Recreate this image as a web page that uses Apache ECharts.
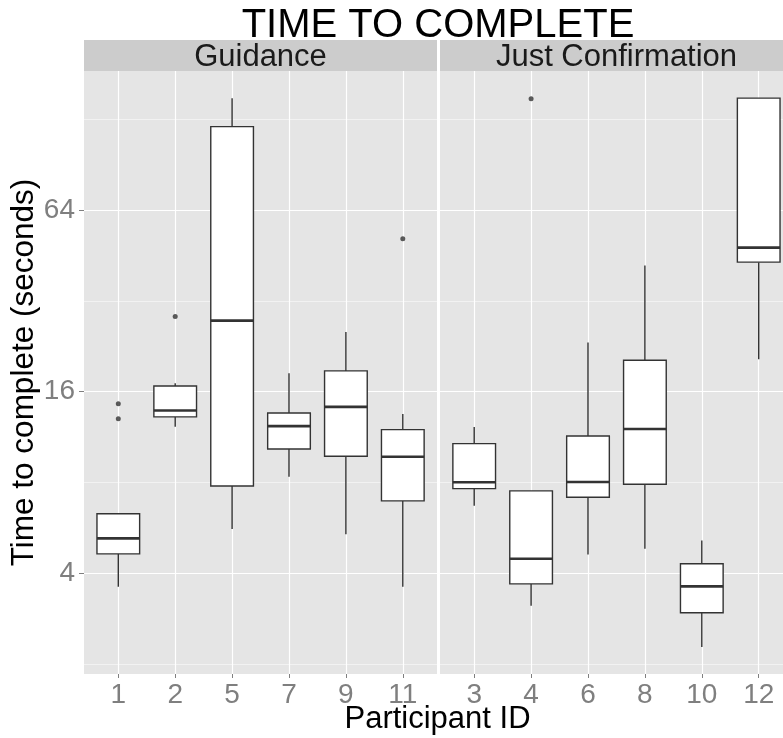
<!DOCTYPE html>
<html>
<head>
<meta charset="utf-8">
<title>Time to complete</title>
<script src="https://cdn.jsdelivr.net/npm/echarts@6/dist/echarts.min.js"></script>
<style>
  html, body { margin: 0; padding: 0; background: #fff; }
  #chart { width: 783px; height: 738px; }
</style>
</head>
<body>
<div id="chart"></div>
<script>
// --- data (seconds) ---
const guidanceIds = ['1', '2', '5', '7', '9', '11'];
const guidanceLow = [3.61, 12.25, 5.61, 8.36, 5.39, 3.61];
const guidanceQ1 = [4.64, 13.2, 7.79, 10.33, 9.77, 6.95];
const guidanceMedian = [5.22, 13.85, 27.5, 12.3, 14.24, 9.74];
const guidanceQ3 = [6.3, 16.7, 120.9, 13.6, 18.74, 11.97];
const guidanceHigh = [6.3, 17.06, 150.2, 18.4, 25.2, 13.5];
const guidanceOutliers = [['1', 14.6], ['1', 13.0], ['2', 28.4], ['11', 51.4]];

const confirmIds = ['3', '4', '6', '8', '10', '12'];
const confirmLow = [6.7, 3.12, 4.62, 4.82, 2.28, 20.5];
const confirmQ1 = [7.63, 3.69, 7.15, 7.89, 2.96, 42.97];
const confirmMedian = [8.01, 4.47, 8.03, 12.03, 3.62, 48.0];
const confirmQ3 = [10.76, 7.5, 11.41, 20.33, 4.3, 150.2];
const confirmHigh = [12.22, 7.5, 23.26, 41.9, 5.14, 150.2];
const confirmOutliers = [['4', 149.5]];

const yTicks = [4, 16, 64];
const yMin = 1.855;
const yMax = 184.8;

const FONT = 'Liberation Sans, Arial, Helvetica, sans-serif';

function boxRows(ids, low, q1, med, q3, high) {
  return ids.map((id, i) => [i, low[i], q1[i], med[i], q3[i], high[i]]);
}

function outlierRows(ids, list) {
  return list.map(d => [ids.indexOf(d[0]), d[1]]);
}

function renderBox(params, api) {
  const i = api.value(0);
  const lo = api.coord([i, api.value(1)]);
  const q1 = api.coord([i, api.value(2)]);
  const md = api.coord([i, api.value(3)]);
  const q3 = api.coord([i, api.value(4)]);
  const hi = api.coord([i, api.value(5)]);
  const band = Math.abs(api.coord([1, 10])[0] - api.coord([0, 10])[0]);
  const half = band * 0.75 / 2;
  const x = lo[0];
  const line = { stroke: '#333333', lineWidth: 1.4 };
  return {
    type: 'group',
    children: [
      { type: 'line', shape: { x1: x, y1: hi[1], x2: x, y2: q3[1] }, style: line },
      { type: 'line', shape: { x1: x, y1: q1[1], x2: x, y2: lo[1] }, style: line },
      {
        type: 'rect',
        shape: { x: x - half, y: q3[1], width: half * 2, height: q1[1] - q3[1] },
        style: { fill: '#FFFFFF', stroke: '#333333', lineWidth: 1.4 }
      },
      { type: 'line', shape: { x1: x - half, y1: md[1], x2: x + half, y2: md[1] }, style: { stroke: '#333333', lineWidth: 2.6 } }
    ]
  };
}

function tickLabel(v) {
  const r = Math.round(v);
  return yTicks.indexOf(r) >= 0 && Math.abs(v - r) < 0.01 ? String(r) : '';
}

// panel = full grey area, inner = span between first and last category
const panelGrid = left => ({
  left: left, top: 71, width: 353, height: 603,
  show: true, backgroundColor: '#E5E5E5', borderWidth: 0, outerBoundsMode: 'none'
});
const innerGrid = left => ({
  left: left, top: 71, width: 284.5, height: 603, outerBoundsMode: 'none'
});

const panelY = idx => ({
  gridIndex: idx, type: 'log', logBase: 2, min: yMin, max: yMax,
  axisLine: { show: false }, axisTick: { show: false }, axisLabel: { show: false },
  splitLine: {
    show: true, showMinLine: false, showMaxLine: false,
    lineStyle: { color: ['#F2F2F2', '#FFFFFF'], width: 1.2 }
  }
});

const catX = (idx, ids) => ({
  gridIndex: idx, type: 'category', data: ids, boundaryGap: false,
  axisLine: { show: false },
  axisTick: { show: true, length: 4, lineStyle: { color: '#7F7F7F', width: 1 } },
  axisLabel: { interval: 0, fontSize: 28, color: '#7F7F7F', fontFamily: FONT, margin: 7 },
  splitLine: { show: true, lineStyle: { color: '#FFFFFF', width: 1.2 } }
});

const chart = echarts.init(document.getElementById('chart'));

const option = {
  animation: false,
  backgroundColor: '#FFFFFF',
  title: {
    text: 'TIME TO COMPLETE',
    left: 433, top: 1, textAlign: 'center',
    textStyle: { fontSize: 40, fontWeight: 'normal', color: '#000000', fontFamily: FONT }
  },
  grid: [panelGrid(84), innerGrid(118.3), panelGrid(440), innerGrid(474.2)],
  xAxis: [
    { gridIndex: 0, type: 'value', show: false, min: 0, max: 1 },
    catX(1, guidanceIds),
    { gridIndex: 2, type: 'value', show: false, min: 0, max: 1 },
    catX(3, confirmIds)
  ],
  yAxis: [
    panelY(0),
    {
      gridIndex: 1, type: 'log', logBase: 2, min: yMin, max: yMax,
      position: 'left', offset: 34.3,
      axisLine: { show: false },
      axisTick: { show: true, length: 5, customValues: yTicks, lineStyle: { color: '#7F7F7F', width: 1 } },
      axisLabel: {
        customValues: yTicks, formatter: tickLabel,
        fontSize: 28, color: '#7F7F7F', fontFamily: FONT, margin: 9
      },
      splitLine: { show: false },
      name: 'Time to complete (seconds)', nameLocation: 'middle', nameGap: 39,
      nameTextStyle: { fontSize: 31.5, color: '#000000', fontFamily: FONT }
    },
    panelY(2),
    {
      gridIndex: 3, type: 'log', logBase: 2, min: yMin, max: yMax,
      axisLine: { show: false }, axisTick: { show: false }, axisLabel: { show: false },
      splitLine: { show: false }
    }
  ],
  graphic: [
    { type: 'rect', shape: { x: 84, y: 40, width: 353, height: 31 }, style: { fill: '#CCCCCC' }, z: -1 },
    { type: 'rect', shape: { x: 440, y: 40, width: 353, height: 31 }, style: { fill: '#CCCCCC' }, z: -1 },
    {
      type: 'text', x: 260.5, y: 57.5,
      style: { text: 'Guidance', align: 'center', verticalAlign: 'middle', fontSize: 31, fontFamily: FONT, fill: '#1A1A1A' }
    },
    {
      type: 'text', x: 616.5, y: 57.5,
      style: { text: 'Just Confirmation', align: 'center', verticalAlign: 'middle', fontSize: 31, fontFamily: FONT, fill: '#1A1A1A' }
    },
    {
      type: 'text', x: 437.5, y: 719,
      style: { text: 'Participant ID', align: 'center', verticalAlign: 'middle', fontSize: 31, fontFamily: FONT, fill: '#000000' }
    }
  ],
  series: [
    {
      type: 'custom', xAxisIndex: 1, yAxisIndex: 1,
      renderItem: renderBox,
      encode: { x: 0, y: [1, 2, 3, 4, 5] },
      data: boxRows(guidanceIds, guidanceLow, guidanceQ1, guidanceMedian, guidanceQ3, guidanceHigh)
    },
    {
      type: 'scatter', xAxisIndex: 1, yAxisIndex: 1,
      symbolSize: 5, itemStyle: { color: '#333333' },
      data: outlierRows(guidanceIds, guidanceOutliers)
    },
    {
      type: 'custom', xAxisIndex: 3, yAxisIndex: 3,
      renderItem: renderBox,
      encode: { x: 0, y: [1, 2, 3, 4, 5] },
      data: boxRows(confirmIds, confirmLow, confirmQ1, confirmMedian, confirmQ3, confirmHigh)
    },
    {
      type: 'scatter', xAxisIndex: 3, yAxisIndex: 3,
      symbolSize: 5, itemStyle: { color: '#333333' },
      data: outlierRows(confirmIds, confirmOutliers)
    }
  ]
};

chart.setOption(option);
</script>
</body>
</html>
